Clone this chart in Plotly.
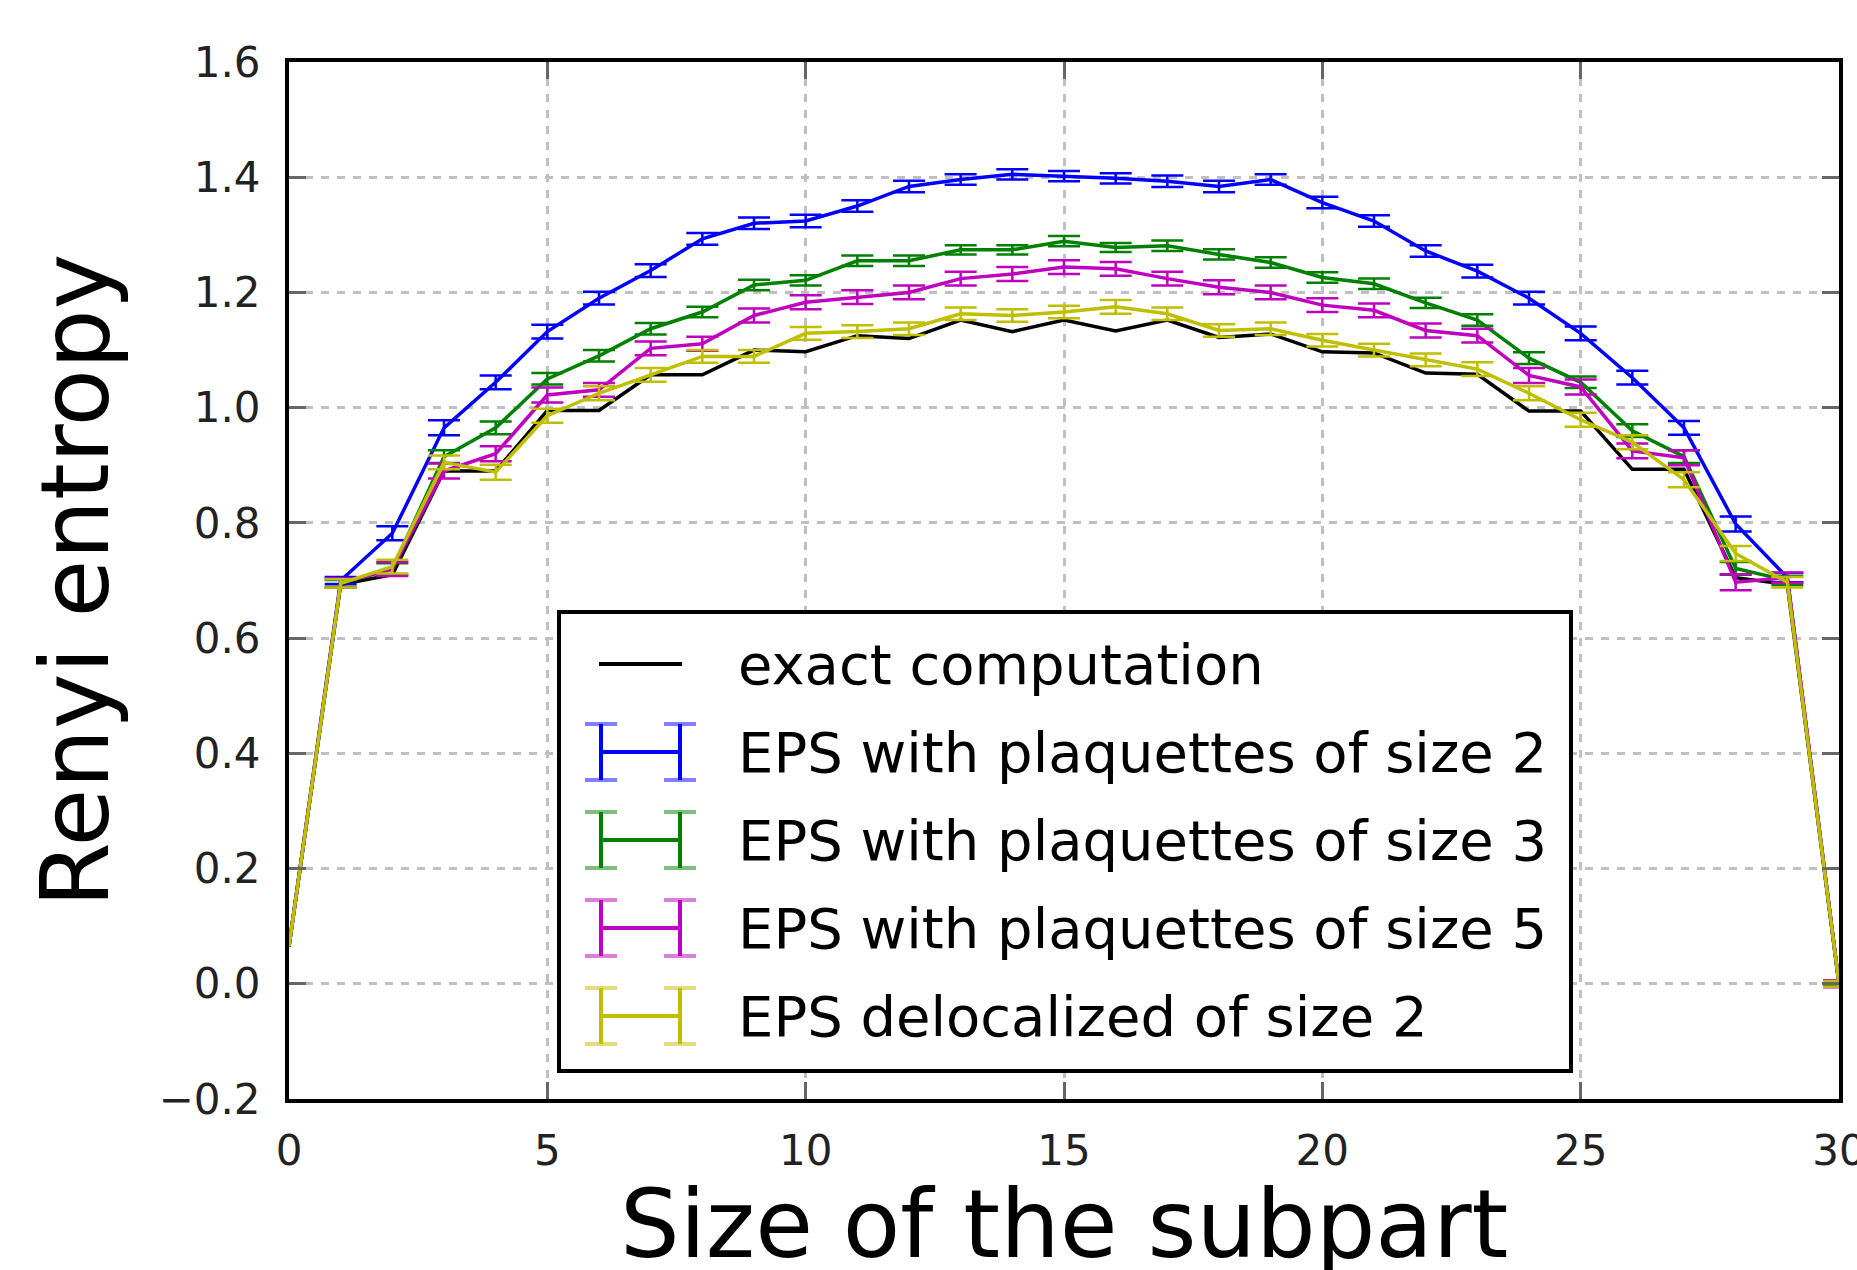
import plotly.graph_objects as go

# Subsystem size (number of sites in the subpart)
sizes = list(range(31))

# Exact Renyi entropy
exact = [0.065, 0.693, 0.71, 0.89, 0.89, 0.995, 0.995, 1.057, 1.057, 1.10, 1.097,
         1.125, 1.12, 1.152, 1.132, 1.152, 1.133, 1.152, 1.122, 1.128, 1.097,
         1.095, 1.06, 1.058, 0.994, 0.994, 0.893, 0.893, 0.705, 0.693, 0.0]

# EPS estimates and their statistical errors (no error bar at size 0)
eps2 = [0.065, 0.70, 0.782, 0.965, 1.044, 1.132, 1.19, 1.238, 1.293, 1.32, 1.324,
        1.35, 1.384, 1.396, 1.405, 1.402, 1.398, 1.393, 1.384, 1.396, 1.356,
        1.324, 1.272, 1.237, 1.19, 1.129, 1.052, 0.965, 0.798, 0.705, 0.0]
eps2_err = [0.006, 0.012, 0.013, 0.012, 0.012, 0.011, 0.011, 0.010, 0.010, 0.011,
            0.010, 0.010, 0.009, 0.009, 0.009, 0.009, 0.010, 0.010, 0.009, 0.010,
            0.010, 0.010, 0.011, 0.011, 0.012, 0.012, 0.012, 0.013, 0.008, 0.004]

eps3 = [0.065, 0.695, 0.72, 0.915, 0.965, 1.05, 1.09, 1.137, 1.166, 1.213, 1.221,
        1.255, 1.255, 1.274, 1.274, 1.289, 1.278, 1.281, 1.266, 1.252, 1.226,
        1.215, 1.182, 1.152, 1.086, 1.044, 0.96, 0.915, 0.721, 0.70, 0.0]
eps3_err = [0.006, 0.010, 0.011, 0.011, 0.010, 0.010, 0.010, 0.009, 0.009, 0.009,
            0.009, 0.009, 0.008, 0.008, 0.009, 0.008, 0.009, 0.009, 0.009, 0.009,
            0.009, 0.009, 0.010, 0.010, 0.010, 0.011, 0.011, 0.011, 0.008, 0.004]

eps5 = [0.065, 0.696, 0.72, 0.89, 0.92, 1.022, 1.031, 1.103, 1.111, 1.16, 1.183,
        1.192, 1.2, 1.224, 1.232, 1.244, 1.241, 1.224, 1.209, 1.2, 1.178,
        1.169, 1.134, 1.125, 1.056, 1.036, 0.925, 0.913, 0.697, 0.705, 0.0]
eps5_err = [0.008, 0.012, 0.013, 0.013, 0.013, 0.012, 0.012, 0.012, 0.012, 0.012,
            0.012, 0.012, 0.012, 0.012, 0.012, 0.012, 0.012, 0.012, 0.012, 0.012,
            0.012, 0.012, 0.012, 0.013, 0.013, 0.013, 0.013, 0.014, 0.009, 0.006]

deloc2 = [0.065, 0.695, 0.724, 0.905, 0.888, 0.986, 1.025, 1.057, 1.089, 1.089, 1.129,
          1.132, 1.137, 1.163, 1.16, 1.166, 1.175, 1.163, 1.134, 1.137, 1.117,
          1.10, 1.083, 1.067, 1.025, 0.979, 0.94, 0.875, 0.747, 0.697, 0.0]
deloc2_err = [0.007, 0.012, 0.012, 0.013, 0.012, 0.012, 0.012, 0.011, 0.011, 0.011,
              0.011, 0.011, 0.011, 0.011, 0.011, 0.012, 0.011, 0.011, 0.011, 0.011,
              0.011, 0.011, 0.012, 0.012, 0.012, 0.012, 0.013, 0.013, 0.009, 0.005]

labels = ["exact computation",
          "EPS with plaquettes of size 2",
          "EPS with plaquettes of size 3",
          "EPS with plaquettes of size 5",
          "EPS delocalized of size 2"]
colors = ["#000000", "#0000ff", "#008000", "#bf00bf", "#bfbf00"]

W, H = 1857, 1270
L, R, T, B = 289, 1839, 62, 1099   # plot-area edges in pixels

fig = go.Figure()

fig.add_trace(go.Scatter(x=sizes, y=exact, mode="lines",
                         line=dict(color=colors[0], width=3.5),
                         name=labels[0], showlegend=False))

for ys, errs, col, name in [(eps2, eps2_err, colors[1], labels[1]),
                            (eps3, eps3_err, colors[2], labels[2]),
                            (eps5, eps5_err, colors[3], labels[3]),
                            (deloc2, deloc2_err, colors[4], labels[4])]:
    # error bars (sizes 1..30)
    fig.add_trace(go.Scatter(
        x=sizes[1:], y=ys[1:], mode="markers", name=name, showlegend=False,
        marker=dict(size=1, color=col, opacity=0),
        hoverinfo="skip",
        error_y=dict(type="data", array=errs, visible=True,
                     color=col, thickness=2.5, width=16)))
    # connecting line (sizes 0..30)
    fig.add_trace(go.Scatter(
        x=sizes, y=ys, mode="lines", name=name, showlegend=False,
        line=dict(color=col, width=3.5)))

# ---- hand-built legend with error-bar samples ----
def px_x(p):
    return (p - L) / (R - L)

def px_y(p):
    return (B - p) / (B - T)

shapes = [dict(type="rect", xref="paper", yref="paper",
               x0=px_x(559), x1=px_x(1571), y0=px_y(1071), y1=px_y(612),
               line=dict(color="black", width=4), fillcolor="white", layer="above")]
annotations = []

row_y = [664, 752, 840, 928, 1016]
sx0, sx1 = 601, 680
for i, (lab, col, ry) in enumerate(zip(labels, colors, row_y)):
    shapes.append(dict(type="line", xref="paper", yref="paper",
                       x0=px_x(sx0 - (2 if i == 0 else 0)), x1=px_x(sx1 + (2 if i == 0 else 0)),
                       y0=px_y(ry), y1=px_y(ry),
                       line=dict(color=col, width=4), layer="above"))
    if i > 0:
        for cx in (sx0, sx1):
            shapes.append(dict(type="line", xref="paper", yref="paper",
                               x0=px_x(cx), x1=px_x(cx),
                               y0=px_y(ry - 28), y1=px_y(ry + 28),
                               line=dict(color=col, width=4), layer="above"))
            for cy in (ry - 28, ry + 28):
                shapes.append(dict(type="line", xref="paper", yref="paper",
                                   x0=px_x(cx - 16), x1=px_x(cx + 16),
                                   y0=px_y(cy), y1=px_y(cy),
                                   line=dict(color=col, width=4), opacity=0.5,
                                   layer="above"))
    annotations.append(dict(text=lab, xref="paper", yref="paper",
                            x=px_x(736), y=px_y(ry), xanchor="left", yanchor="middle",
                            showarrow=False,
                            font=dict(family="DejaVu Sans", size=56, color="black")))

# axis titles
annotations.append(dict(text="Size of the subpart", xref="paper", yref="paper",
                        x=0.5, y=px_y(1224), xanchor="center", yanchor="middle",
                        showarrow=False,
                        font=dict(family="DejaVu Sans", size=94, color="black")))
annotations.append(dict(text="Renyi entropy", xref="paper", yref="paper",
                        x=px_x(75), y=0.5, xanchor="center", yanchor="middle",
                        textangle=-90, showarrow=False,
                        font=dict(family="DejaVu Sans", size=94, color="black")))

axis_common = dict(
    showline=True, linecolor="black", linewidth=4, mirror="ticks",
    ticks="inside", ticklen=17, tickwidth=3, tickcolor="#666666",
    showgrid=True, gridcolor="#c0c0c0", gridwidth=3, griddash="8px,8px",
    zeroline=False, automargin=False,
    tickfont=dict(family="DejaVu Sans", size=42, color="#222222"),
)

fig.update_layout(
    width=W, height=H,
    margin=dict(l=L, r=W - R, t=T, b=H - B, pad=0, autoexpand=False),
    paper_bgcolor="white", plot_bgcolor="white",
    xaxis=dict(range=[0, 30], tickmode="array", tickvals=[0, 5, 10, 15, 20, 25, 30],
               ticklabelstandoff=12, ticklabeloverflow="allow", **axis_common),
    yaxis=dict(range=[-0.2, 1.6], tickmode="array",
               tickvals=[-0.2, 0.0, 0.2, 0.4, 0.6, 0.8, 1.0, 1.2, 1.4, 1.6],
               tickformat=".1f", ticklabelstandoff=16, **axis_common),
    shapes=shapes,
    annotations=annotations,
    showlegend=False,
)

fig.write_html("out.html")
